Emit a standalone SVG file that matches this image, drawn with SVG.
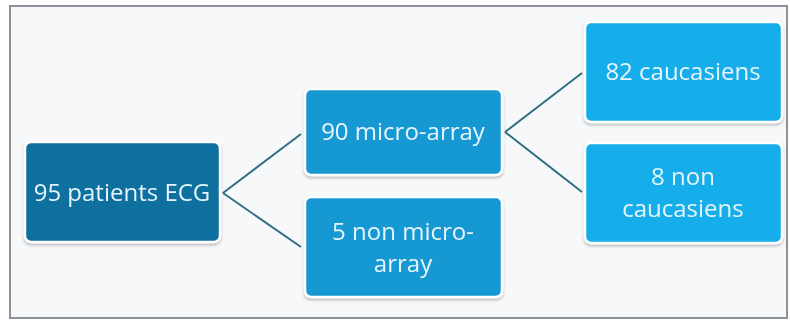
<svg xmlns="http://www.w3.org/2000/svg" width="790" height="320" viewBox="0 0 790 320">
<style>
.node rect{stroke:#ffffff;stroke-width:2.5}
.n1{fill:#0b6f9e}
.n2{fill:#1798d3}
.n3{fill:#12aeea}
.node text{font-family:"Open Sans","Liberation Sans",sans-serif;font-size:24px;fill:#e6f4fb;text-anchor:middle}
.conn line{stroke:#2f6f80;stroke-width:2}
</style>
<defs>
<filter id="sh" x="-10%" y="-10%" width="120%" height="130%">
<feDropShadow dx="0" dy="2" stdDeviation="1.5" flood-color="#000" flood-opacity="0.25"/>
</filter>
</defs>
<rect x="0" y="0" width="790" height="320" fill="#ffffff"/>
<rect x="10" y="6" width="777" height="312" fill="#f7f8fa" stroke="#8c929c" stroke-width="2"/>
<g class="conn">
<line x1="223" y1="193" x2="301" y2="134"/>
<line x1="223" y1="193" x2="301" y2="247"/>
<line x1="505" y1="132" x2="582" y2="73"/>
<line x1="505" y1="132" x2="582" y2="192"/>
</g>
<g id="n95" class="node" filter="url(#sh)">
<rect class="n1" x="25" y="142" width="195" height="100" rx="6"/>
<text x="122" y="201">95 patients ECG</text>
</g>
<g id="n90" class="node" filter="url(#sh)">
<rect class="n2" x="305" y="89" width="197" height="86" rx="6"/>
<text x="403" y="140">90 micro-array</text>
</g>
<g id="n5" class="node" filter="url(#sh)">
<rect class="n2" x="305" y="197" width="197" height="100" rx="6"/>
<text x="403" y="240">5 non micro-</text>
<text x="403" y="272">array</text>
</g>
<g id="n82" class="node" filter="url(#sh)">
<rect class="n3" x="585" y="22" width="197" height="100" rx="6"/>
<text x="683" y="80">82 caucasiens</text>
</g>
<g id="n8" class="node" filter="url(#sh)">
<rect class="n3" x="585" y="143" width="197" height="100" rx="6"/>
<text x="683" y="185">8 non</text>
<text x="683" y="217">caucasiens</text>
</g>
</svg>
